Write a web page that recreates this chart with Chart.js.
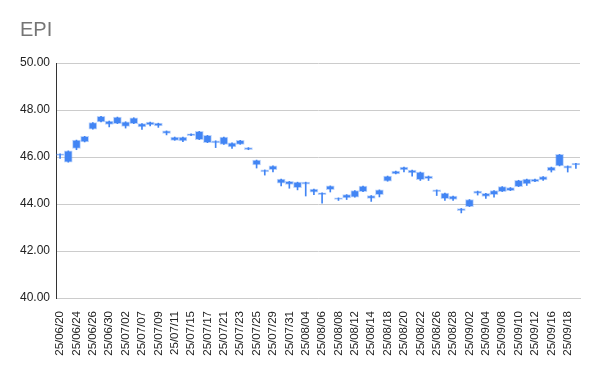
<!DOCTYPE html>
<html lang="en">
    <head>
        <meta charset="UTF-8">
        <title>EPI</title>
        <script src="https://cdn.jsdelivr.net/npm/chart.js"></script>
        <style>
            body { margin: 0; background: #fff; }
        </style>
    </head>
    <body>
        <canvas id="epiChart" width="600" height="371"></canvas>

        <script>
            // Trading days, 2025/06/20 - 2025/09/19
            const dates = [
                '25/06/20','25/06/23','25/06/24','25/06/25','25/06/26','25/06/27','25/06/30',
                '25/07/01','25/07/02','25/07/03','25/07/07','25/07/08','25/07/09','25/07/10','25/07/11',
                '25/07/14','25/07/15','25/07/16','25/07/17','25/07/18','25/07/21','25/07/22','25/07/23',
                '25/07/24','25/07/25','25/07/28','25/07/29','25/07/30','25/07/31','25/08/01',
                '25/08/04','25/08/05','25/08/06','25/08/07','25/08/08','25/08/11','25/08/12','25/08/13',
                '25/08/14','25/08/15','25/08/18','25/08/19','25/08/20','25/08/21','25/08/22',
                '25/08/25','25/08/26','25/08/27','25/08/28','25/08/29','25/09/02','25/09/03','25/09/04',
                '25/09/05','25/09/08','25/09/09','25/09/10','25/09/11','25/09/12','25/09/15',
                '25/09/16','25/09/17','25/09/18','25/09/19'
            ];
            const open = [
                46.14, 46.26, 46.36, 46.64, 47.18, 47.49, 47.53,
                47.42, 47.50, 47.42, 47.42, 47.36, 47.44, 47.11, 46.85,
                46.85, 46.91, 47.09, 46.92, 46.69, 46.54, 46.60, 46.54,
                46.40, 45.87, 45.45, 45.46, 45.06, 44.96, 44.93,
                44.84, 44.63, 44.48, 44.61, 44.26, 44.26, 44.29, 44.53,
                44.36, 44.40, 44.97, 45.28, 45.45, 45.44, 45.36,
                45.19, 44.60, 44.46, 44.34, 43.81, 43.89, 44.45, 44.45,
                44.40, 44.53, 44.70, 44.74, 44.85, 44.95, 45.03,
                45.42, 45.62, 45.62, 45.66
            ];
            const high = [
                46.14, 46.26, 46.72, 46.88, 47.46, 47.73, 47.53,
                47.70, 47.50, 47.67, 47.42, 47.49, 47.44, 47.11, 46.85,
                46.85, 46.99, 47.09, 46.92, 46.69, 46.85, 46.60, 46.71,
                46.40, 45.87, 45.45, 45.62, 45.06, 44.96, 44.93,
                44.93, 44.63, 44.48, 44.77, 44.26, 44.40, 44.57, 44.76,
                44.36, 44.60, 45.19, 45.40, 45.57, 45.44, 45.36,
                45.19, 44.60, 44.46, 44.34, 43.81, 44.19, 44.55, 44.45,
                44.57, 44.74, 44.70, 45.01, 45.06, 45.06, 45.17,
                45.57, 46.11, 45.62, 45.73
            ];
            const low = [
                45.94, 45.78, 46.31, 46.64, 47.18, 47.49, 47.28,
                47.42, 47.23, 47.42, 47.17, 47.32, 47.26, 46.94, 46.71,
                46.65, 46.91, 46.74, 46.61, 46.40, 46.54, 46.36, 46.54,
                46.31, 45.53, 45.23, 45.37, 44.77, 44.67, 44.60,
                44.34, 44.40, 44.04, 44.51, 44.15, 44.19, 44.29, 44.53,
                44.11, 44.30, 44.97, 45.28, 45.36, 45.18, 45.00,
                45.00, 44.36, 44.15, 44.15, 43.62, 43.89, 44.38, 44.24,
                44.29, 44.53, 44.57, 44.74, 44.79, 44.95, 45.00,
                45.36, 45.62, 45.36, 45.51
            ];
            const close = [
                46.07, 45.78, 46.72, 46.88, 47.46, 47.73, 47.39,
                47.70, 47.30, 47.67, 47.28, 47.49, 47.32, 47.00, 46.71,
                46.68, 46.99, 46.74, 46.61, 46.60, 46.85, 46.43, 46.71,
                46.31, 45.66, 45.37, 45.62, 44.89, 44.83, 44.70,
                44.93, 44.50, 44.40, 44.77, 44.19, 44.40, 44.57, 44.76,
                44.24, 44.60, 45.19, 45.40, 45.57, 45.32, 45.04,
                45.08, 44.53, 44.23, 44.19, 43.72, 44.19, 44.55, 44.32,
                44.57, 44.74, 44.57, 45.01, 45.06, 45.06, 45.17,
                45.57, 46.11, 45.53, 45.73
            ];

            const BLUE = '#4285F4';
            const FONT = 'Arial, "Liberation Sans", sans-serif';

            const wicks = dates.map((d, i) => [low[i], high[i]]);
            const bodies = dates.map((d, i) => [open[i], close[i]]);

            const ctx = document.getElementById('epiChart').getContext('2d');
            new Chart(ctx, {
                type: 'bar',
                data: {
                    labels: dates,
                    datasets: [
                        {
                            label: 'range',
                            data: wicks,
                            backgroundColor: BLUE,
                            barThickness: 1,
                            grouped: false,
                            order: 2
                        },
                        {
                            label: 'EPI',
                            data: bodies,
                            backgroundColor: BLUE,
                            borderColor: 'rgba(66,133,244,0.35)',
                            borderWidth: 1,
                            borderSkipped: false,
                            barThickness: 8,
                            grouped: false,
                            order: 1
                        }
                    ]
                },
                options: {
                    responsive: false,
                    animation: false,
                    layout: { padding: { left: 20, right: 20, top: 0, bottom: 0 } },
                    plugins: {
                        legend: { display: false },
                        tooltip: { enabled: false },
                        title: {
                            display: true,
                            text: 'EPI',
                            align: 'start',
                            color: '#757575',
                            font: { family: FONT, size: 20, weight: 'normal' },
                            padding: { top: 18, bottom: 21 }
                        }
                    },
                    scales: {
                        x: {
                            grid: { display: false },
                            border: { display: true, color: '#cccccc' },
                            ticks: {
                                autoSkip: false,
                                minRotation: 90,
                                maxRotation: 90,
                                padding: 5,
                                color: '#222',
                                font: { family: FONT, size: 11.5 },
                                callback: function (value, index) {
                                    return index % 2 === 0 ? dates[index] : '';
                                }
                            },
                            afterFit: function (scale) { scale.height = 73; }
                        },
                        y: {
                            min: 40,
                            max: 50,
                            grid: { color: '#cccccc', drawTicks: false },
                            border: { display: true, color: '#333333' },
                            ticks: {
                                stepSize: 2,
                                padding: 6,
                                color: '#222',
                                font: { family: FONT, size: 12 },
                                callback: v => Number(v).toFixed(2)
                            },
                            afterFit: function (scale) { scale.width = 36; }
                        }
                    }
                }
            });
        </script>
    </body>
</html>
